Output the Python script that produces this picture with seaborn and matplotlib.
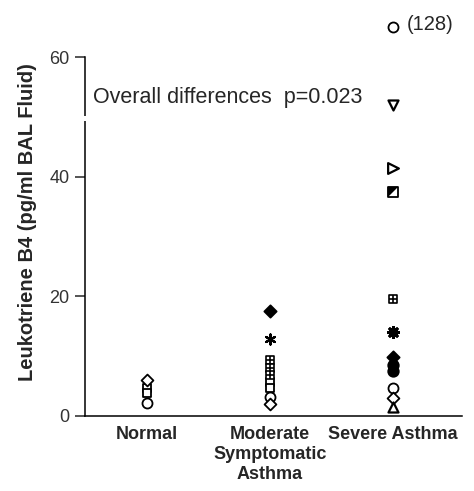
import numpy as np
import pandas as pd
import matplotlib
matplotlib.use("Agg")
import matplotlib.pyplot as plt
from matplotlib.patches import Rectangle
import matplotlib.transforms as mtransforms
import seaborn as sns

# ---------------- data ----------------
GROUPS = ["Normal", "Moderate\nSymptomatic\nAsthma", "Severe Asthma"]
Y_TICKS = [0, 20, 40, 60]

normal_vals = [6.0, 4.6, 3.8, 2.2]
normal_syms = ["diamond_open", "square_open", "square_open", "circle_open"]

moderate_vals = [17.5, 12.8, 9.3, 8.1, 6.9, 5.6, 4.6, 3.2, 2.0]
moderate_syms = ["diamond_filled", "asterisk", "grid", "grid", "grid",
                 "square_open", "square_open", "circle_open", "diamond_open"]

severe_vals = [65.0, 52.0, 41.5, 37.5, 19.5, 14.0, 9.9, 8.6, 7.6, 4.7, 3.0, 1.5]
severe_syms = ["circle_open", "tri_down", "tri_right", "half_square", "grid",
               "asterisk_bold", "diamond_filled", "circle_filled", "circle_filled",
               "circle_open", "diamond_open", "tri_up"]

OFFSCALE_LABEL = "(128)"
ANNOTATION = "Overall differences  p=0.023"

# ---------------- styles ----------------
TRI_HALF = [(-1, -1), (-1, 1), (1, 1)]
BASE = 52
SYMBOLS = {
    "circle_open":   [("o", "white", 1.0, 1.3)],
    "circle_filled": [("o", "black", 1.1, 1.3)],
    "square_open":   [("s", "white", 0.8, 1.3)],
    "diamond_open":  [("D", "white", 0.7, 1.3)],
    "diamond_filled": [("D", "black", 0.75, 1.3)],
    "tri_down":      [("v", "white", 1.0, 1.6)],
    "tri_up":        [("^", "white", 1.0, 1.6)],
    "tri_right":     [(">", "white", 1.15, 1.6)],
    "half_square":   [("s", "white", 0.85, 1.3), (TRI_HALF, "black", 0.85, 0.3)],
    "grid":          [("s", "white", 0.8, 1.2), ("+", "black", 0.8, 1.2)],
    "asterisk":      [((6, 2, 0), "black", 1.0, 1.6)],
    "asterisk_bold": [((8, 2, 0), "black", 1.0, 2.2)],
}

df = pd.DataFrame({
    "group": [GROUPS[0]] * len(normal_vals) + [GROUPS[1]] * len(moderate_vals)
             + [GROUPS[2]] * len(severe_vals),
    "value": normal_vals + moderate_vals + severe_vals,
    "symbol": normal_syms + moderate_syms + severe_syms,
})
df["pos"] = df["group"].map({g: i for i, g in enumerate(GROUPS)})

# ---------------- figure ----------------
sns.set_style("ticks")
plt.rcParams["font.family"] = ["Liberation Sans", "DejaVu Sans"]

fig = plt.figure(figsize=(4.74, 4.91), dpi=100)
ax = fig.add_axes([85 / 474, 1 - 416 / 491, (462 - 85) / 474, (416 - 57) / 491])

for sym, layers in SYMBOLS.items():
    sub = df[df["symbol"] == sym]
    if sub.empty:
        continue
    for k, (mk, fc, sf, lw) in enumerate(layers):
        if isinstance(mk, tuple) and len(mk) == 3:
            kw = dict(color=fc, linewidth=lw)
        else:
            kw = dict(facecolor=fc, edgecolor="black", linewidth=lw)
        sns.scatterplot(data=sub, x="pos", y="value", marker=mk, s=BASE * sf,
                        ax=ax, zorder=3 + k, clip_on=False, legend=False, **kw)

ax.set_xlim(-0.5, 2.56)
ax.set_ylim(0, 60)
ax.set_xticks(range(len(GROUPS)))
ax.set_xticklabels(GROUPS, fontsize=13, fontweight="bold", linespacing=1.25)
ax.set_yticks(Y_TICKS)
ax.set_yticklabels([str(t) for t in Y_TICKS], fontsize=13, color="#333333")
ax.tick_params(axis="x", length=0, pad=7)
ax.tick_params(axis="y", length=7, width=1.1, direction="out", pad=4)
ax.set_xlabel("")
ax.set_ylabel("Leukotriene B4 (pg/ml BAL Fluid)", fontsize=14.5, fontweight="bold")
ax.yaxis.set_label_coords(-0.128, 0.54)
sns.despine(ax=ax)
for sp in ("left", "bottom"):
    ax.spines[sp].set_linewidth(1.1)
    ax.spines[sp].set_color("black")

# small break in the y axis
trans = mtransforms.blended_transform_factory(ax.transAxes, ax.transData)
ax.add_patch(Rectangle((-0.02, 49.3), 0.04, 0.9, transform=trans,
                       facecolor="white", edgecolor="none", zorder=5, clip_on=False))
ax.text(-0.435, 53.2, ANNOTATION, fontsize=15.5, va="center", ha="left", zorder=6)

top = df[df["value"] == df["value"].max()].iloc[0]
ax.annotate(OFFSCALE_LABEL, (top["pos"], top["value"]), xytext=(10, 2),
            textcoords="offset points", fontsize=14.5, va="center", ha="left",
            annotation_clip=False)

fig.savefig("out.png", dpi=100)
